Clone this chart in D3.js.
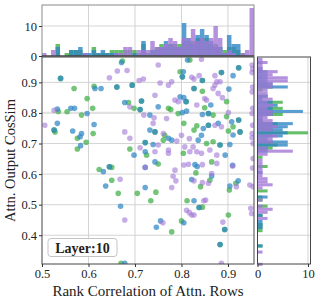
<!DOCTYPE html>
<html>
<head>
<meta charset="utf-8">
<script src="https://cdn.jsdelivr.net/npm/d3@7"></script>
<style>
body { margin: 0; background: #fff; }
text { font-family: "Liberation Serif", "DejaVu Serif", serif; fill: #222; }
</style>
</head>
<body>
<div id="chart"></div>
<script>
// --- Data ---
const layerLabel = "Layer:10";
const xTicks = [0.5, 0.6, 0.7, 0.8, 0.9];
const yTicks = [0.4, 0.5, 0.6, 0.7, 0.8, 0.9];
const countTicks = [0, 10];

// scatter points [rank correlation, cos sim]
const greenPts = [
  [0.673,0.970],[0.797,0.935],[0.818,0.973],[0.569,0.880],[0.612,0.887],[0.661,0.885],[0.694,0.891],
  [0.802,0.918],[0.845,0.906],[0.886,0.932],[0.923,0.948],[0.686,0.834],[0.698,0.815],[0.711,0.811],
  [0.714,0.839],[0.772,0.815],[0.777,0.811],[0.810,0.837],[0.793,0.798],[0.805,0.766],[0.827,0.880],
  [0.845,0.871],[0.850,0.817],[0.858,0.798],[0.868,0.793],[0.897,0.837],[0.897,0.788],[0.923,0.777],
  [0.911,0.755],[0.901,0.741],[0.926,0.738],[0.883,0.695],[0.858,0.760],[0.833,0.758],[0.827,0.744],
  [0.854,0.700],[0.868,0.706],[0.804,0.668],[0.764,0.727],[0.761,0.711],[0.722,0.703],[0.725,0.662],
  [0.743,0.738],[0.689,0.682],[0.535,0.805],[0.554,0.804],[0.585,0.793],[0.609,0.815],[0.597,0.847],
  [0.526,0.744],[0.528,0.738],[0.576,0.717],[0.595,0.704],[0.610,0.733],[0.576,0.682],[0.540,0.913],
  [0.623,0.615],[0.650,0.622],[0.645,0.624],[0.750,0.633],[0.831,0.604],[0.865,0.640],[0.861,0.580],
  [0.841,0.559],[0.917,0.570],[0.903,0.548],[0.650,0.580],[0.664,0.537],[0.705,0.537],[0.745,0.541],
  [0.734,0.513],[0.812,0.513],[0.838,0.491],[0.845,0.492],[0.779,0.411],[0.800,0.447],[0.901,0.466],
  [0.893,0.419],[0.883,0.370],[0.670,0.308]
];
const bluePts = [
  [0.671,0.965],[0.804,0.935],[0.813,0.973],[0.540,0.913],[0.614,0.880],[0.627,0.880],[0.661,0.885],
  [0.694,0.891],[0.802,0.918],[0.845,0.906],[0.886,0.932],[0.911,0.922],[0.923,0.948],[0.678,0.834],
  [0.711,0.811],[0.714,0.839],[0.732,0.793],[0.750,0.820],[0.797,0.853],[0.805,0.850],[0.810,0.837],
  [0.802,0.801],[0.811,0.806],[0.827,0.880],[0.863,0.826],[0.902,0.878],[0.845,0.795],[0.858,0.798],
  [0.879,0.766],[0.908,0.771],[0.923,0.777],[0.911,0.728],[0.926,0.738],[0.904,0.697],[0.883,0.695],
  [0.858,0.760],[0.847,0.749],[0.843,0.727],[0.836,0.711],[0.779,0.711],[0.772,0.717],[0.739,0.697],
  [0.722,0.703],[0.722,0.673],[0.732,0.744],[0.743,0.738],[0.698,0.662],[0.894,0.662],[0.533,0.813],
  [0.562,0.815],[0.570,0.815],[0.597,0.798],[0.533,0.766],[0.526,0.744],[0.566,0.741],[0.582,0.722],
  [0.585,0.733],[0.612,0.762],[0.583,0.693],[0.645,0.624],[0.632,0.608],[0.743,0.640],[0.829,0.631],
  [0.834,0.625],[0.822,0.582],[0.865,0.594],[0.904,0.561],[0.922,0.578],[0.637,0.561],[0.722,0.556],
  [0.669,0.495],[0.827,0.513],[0.838,0.491],[0.755,0.447],[0.746,0.426],[0.805,0.441],[0.893,0.419],
  [0.883,0.370],[0.678,0.308],[0.910,0.629],[0.722,0.622]
];
const purplePts = [
  [0.750,0.957],[0.662,0.937],[0.683,0.939],[0.645,0.915],[0.709,0.906],[0.718,0.911],[0.754,0.898],
  [0.779,0.902],[0.772,0.891],[0.843,0.976],[0.822,0.917],[0.827,0.911],[0.838,0.922],[0.872,0.922],
  [0.876,0.902],[0.883,0.902],[0.952,0.957],[0.952,0.932],[0.743,0.858],[0.689,0.820],[0.719,0.793],
  [0.741,0.784],[0.768,0.782],[0.786,0.842],[0.793,0.837],[0.833,0.826],[0.850,0.847],[0.854,0.842],
  [0.868,0.880],[0.872,0.891],[0.879,0.864],[0.888,0.850],[0.886,0.755],[0.901,0.801],[0.952,0.869],
  [0.952,0.798],[0.952,0.733],[0.952,0.719],[0.954,0.700],[0.872,0.760],[0.861,0.679],[0.843,0.668],
  [0.825,0.689],[0.807,0.689],[0.818,0.673],[0.833,0.673],[0.817,0.716],[0.800,0.727],[0.790,0.708],
  [0.772,0.679],[0.772,0.668],[0.750,0.695],[0.711,0.686],[0.743,0.673],[0.739,0.766],[0.761,0.733],
  [0.678,0.738],[0.689,0.717],[0.876,0.662],[0.506,0.760],[0.526,0.809],[0.954,0.651],[0.722,0.622],
  [0.786,0.613],[0.805,0.630],[0.815,0.632],[0.845,0.631],[0.876,0.635],[0.865,0.602],[0.910,0.626],
  [0.827,0.578],[0.845,0.572],[0.858,0.570],[0.918,0.559],[0.947,0.564],[0.954,0.559],[0.782,0.593],
  [0.779,0.556],[0.788,0.578],[0.668,0.583],[0.848,0.513],[0.852,0.515],[0.811,0.482],[0.817,0.474],
  [0.822,0.466],[0.827,0.466],[0.678,0.450],[0.760,0.441],[0.889,0.443],[0.886,0.308],[0.949,0.488],
  [0.951,0.471],[0.610,0.345],[0.953,0.944],[0.953,0.885],[0.953,0.815],[0.953,0.760],[0.953,0.620]
];

// top histogram: 47 equal bins over [0.5, 0.956]
const topBinStart = 0.5, topBinEnd = 0.956;
const greenTop  = [0,0,0,4,0,1,2,2,2,1,0,3,1,1,1,2,2,2,2,2,2,1,4,1,2,3,4,3,4,4,4,5,5,5,6,6,6,4,4,3,2,3,3,2,1,0,0];
const blueTop   = [0,0,0,3,0,0,2,2,3,1,1,2,1,2,1,1,1,0,0,0,1,0,5,0,2,2,3,5,4,3,3,11,6,4,7,9,7,5,3,3,1,7,4,4,0,0,0];
const purpleTop = [1,0,2,0,0,0,0,0,0,1,0,0,0,0,0,0,1,1,3,3,0,2,2,2,5,3,3,4,6,5,3,6,6,9,5,6,5,6,10,6,1,2,1,0,1,2,16];

// side histogram: bins of 0.01 starting at 0.30
const sideBinStart = 0.30, sideBinWidth = 0.01;
const greenSide  = [0,0,0,0,0,0,1,0,0,0, 0,1,1,1,0,0,1,0,0,2, 0,1,1,0,2,0,0,0,0,0, 0,0,2,0,0,1,0,0,3,4, 3,0,3,10,3,3,4,1,0,5, 3,5,0,5,0,2,0,1,3,2, 0,1,0,1,0,0,0,0];
const blueSide   = [0,0,0,0,0,0,1,0,0,0, 0,0,1,1,1,0,1,0,0,0, 0,0,2,0,0,0,0,0,0,0, 1,0,0,0,0,0,0,2,2,6, 6,2,5,6,5,6,7,1,1,3, 9,3,4,3,1,2,0,0,6,3, 2,2,2,2,1,0,1,0];
const purpleSide = [1,0,0,0,1,0,0,0,0,0, 0,0,0,0,0,2,0,2,3,1, 0,1,0,0,0,1,3,2,2,1, 1,1,1,1,1,0,2,7,2,0, 3,3,4,0,3,4,3,3,2,3, 3,2,3,2,3,2,2,2,3,3, 6,6,3,4,1,1,2,1];

const series = [
  { name: "green",  color: "#3fae45", pts: greenPts,  top: greenTop,  side: greenSide },
  { name: "blue",   color: "#2f86c4", pts: bluePts,   top: blueTop,   side: blueSide },
  { name: "purple", color: "#a277d6", pts: purplePts, top: purpleTop, side: purpleSide }
];

// --- Layout ---
const width = 319, height = 302;
const mainBox = { l: 42, t: 57, r: 254, b: 264 };
const topBox  = { l: 42, t: 5,  r: 254, b: 56 };
const sideBox = { l: 257.5, t: 57, r: 310.5, b: 264 };
const gridColor = "#cfcfcf";
const serif = "Liberation Serif, DejaVu Serif, serif";

const x = d3.scaleLinear().domain([0.5, 0.956]).range([mainBox.l, mainBox.r]);
const y = d3.scaleLinear().domain([0.306, 0.983]).range([mainBox.b, mainBox.t]);
const yTop = d3.scaleLinear().domain([0, 17]).range([topBox.b, topBox.t]);
const xSide = d3.scaleLinear().domain([0, 10.5]).range([sideBox.l, sideBox.r]);

const svg = d3.select("#chart").append("svg")
    .attr("width", width)
    .attr("height", height)
    .attr("font-family", serif);

const defs = svg.append("defs");
defs.append("clipPath").attr("id", "clipMain").append("rect")
    .attr("x", mainBox.l).attr("y", mainBox.t)
    .attr("width", mainBox.r - mainBox.l).attr("height", mainBox.b - mainBox.t);

// --- Grids ---
const grid = svg.append("g").attr("stroke", gridColor).attr("stroke-width", 0.9);
xTicks.slice(1).forEach(v => {
    grid.append("line").attr("x1", x(v)).attr("x2", x(v)).attr("y1", mainBox.t).attr("y2", mainBox.b);
    grid.append("line").attr("x1", x(v)).attr("x2", x(v)).attr("y1", topBox.t).attr("y2", topBox.b);
});
yTicks.forEach(v => {
    grid.append("line").attr("x1", mainBox.l).attr("x2", mainBox.r).attr("y1", y(v)).attr("y2", y(v))
        .attr("stroke-width", v === 0.8 ? 2.2 : 0.9).attr("stroke", v === 0.8 ? "#e2e2e2" : gridColor);
    grid.append("line").attr("x1", sideBox.l).attr("x2", sideBox.r).attr("y1", y(v)).attr("y2", y(v));
});
grid.append("line").attr("x1", topBox.l).attr("x2", topBox.r).attr("y1", yTop(10)).attr("y2", yTop(10));
grid.append("line").attr("x1", xSide(10)).attr("x2", xSide(10)).attr("y1", sideBox.t).attr("y2", sideBox.b);

// --- Top histogram ---
const topW = (topBinEnd - topBinStart) / greenTop.length;
series.forEach(s => {
    svg.append("g").selectAll("rect")
        .data(s.top)
        .join("rect")
        .attr("x", (d, i) => x(topBinStart + i * topW))
        .attr("width", (d, i) => x(topBinStart + (i + 1) * topW) - x(topBinStart + i * topW))
        .attr("y", d => yTop(d))
        .attr("height", d => yTop(0) - yTop(d))
        .attr("fill", s.color)
        .attr("fill-opacity", 0.8);
});

// --- Side histogram ---
series.forEach(s => {
    svg.append("g").selectAll("rect")
        .data(s.side)
        .join("rect")
        .attr("x", xSide(0))
        .attr("width", d => xSide(d) - xSide(0))
        .attr("y", (d, i) => y(sideBinStart + (i + 1) * sideBinWidth))
        .attr("height", (d, i) => y(sideBinStart + i * sideBinWidth) - y(sideBinStart + (i + 1) * sideBinWidth))
        .attr("fill", s.color)
        .attr("fill-opacity", 0.8);
});

// --- Scatter ---
const dots = svg.append("g").attr("clip-path", "url(#clipMain)");
series.forEach(s => {
    dots.append("g").selectAll("circle")
        .data(s.pts)
        .join("circle")
        .attr("cx", d => x(d[0]))
        .attr("cy", d => y(d[1]))
        .attr("r", 2.8)
        .attr("fill", s.color)
        .attr("fill-opacity", s.name === "purple" ? 0.6 : 0.72);
});

// --- Frames ---
function frame(b, color) {
    svg.append("rect")
        .attr("x", b.l).attr("y", b.t)
        .attr("width", b.r - b.l).attr("height", b.b - b.t)
        .attr("fill", "none").attr("stroke", color).attr("stroke-width", 1);
}
frame(topBox, "#8a8a8a");
svg.append("line").attr("x1", topBox.l).attr("x2", topBox.r).attr("y1", topBox.b).attr("y2", topBox.b)
    .attr("stroke", "#222").attr("stroke-width", 1);
frame(mainBox, "#444");
frame(sideBox, "#444");

// --- Axes ---
function styleAxis(g) {
    g.attr("font-family", serif);
    g.select(".domain").remove();
    g.selectAll(".tick line").attr("stroke", "#333");
    g.selectAll(".tick text").attr("font-size", 12.5).attr("fill", "#222")
        .style("font-family", serif);
}

svg.append("g")
    .attr("transform", `translate(0,${mainBox.b})`)
    .call(d3.axisBottom(x).tickValues(xTicks).tickSize(3).tickPadding(2).tickFormat(d3.format(".1f")))
    .call(styleAxis);

svg.append("g")
    .attr("transform", `translate(${mainBox.l},0)`)
    .call(d3.axisLeft(y).tickValues(yTicks).tickSize(3).tickPadding(2).tickFormat(d3.format(".1f")))
    .call(styleAxis);

svg.append("g")
    .attr("transform", `translate(${topBox.l},0)`)
    .call(d3.axisLeft(yTop).tickValues(countTicks).tickSize(3).tickPadding(2))
    .call(styleAxis);

svg.append("g")
    .attr("transform", `translate(0,${sideBox.b})`)
    .call(d3.axisBottom(xSide).tickValues(countTicks).tickSize(3).tickPadding(2))
    .call(styleAxis);

// --- Axis labels ---
svg.append("text")
    .attr("x", (mainBox.l + mainBox.r) / 2)
    .attr("y", 296)
    .attr("text-anchor", "middle")
    .attr("font-size", 15)
    .style("font-family", serif)
    .text("Rank Correlation of Attn. Rows");

svg.append("text")
    .attr("transform", `translate(15,${(mainBox.t + mainBox.b) / 2}) rotate(-90)`)
    .attr("text-anchor", "middle")
    .attr("font-size", 14.5)
    .style("font-family", serif)
    .text("Attn. Output CosSim");

// --- Layer label box ---
const legend = svg.append("g");
legend.append("rect")
    .attr("x", 48).attr("y", 238.5)
    .attr("width", 69).attr("height", 18)
    .attr("rx", 3)
    .attr("fill", "#fff").attr("fill-opacity", 0.85)
    .attr("stroke", "#c4c4c4");
legend.append("text")
    .attr("x", 82.5).attr("y", 252.5)
    .attr("text-anchor", "middle")
    .attr("font-size", 14)
    .attr("font-weight", "bold")
    .style("font-family", serif)
    .text(layerLabel);
</script>
</body>
</html>
